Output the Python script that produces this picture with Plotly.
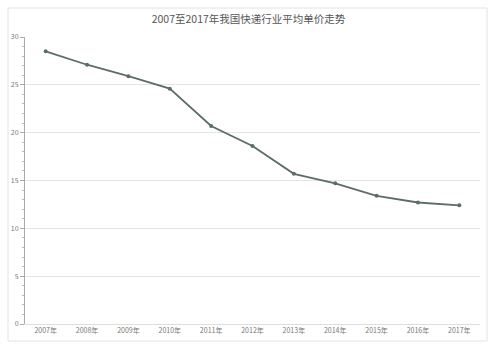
import plotly.graph_objects as go

years = ["2007年", "2008年", "2009年", "2010年", "2011年", "2012年",
         "2013年", "2014年", "2015年", "2016年", "2017年"]
prices = [28.5, 27.1, 25.9, 24.6, 20.7, 18.6, 15.7, 14.7, 13.4, 12.7, 12.4]
y_ticks = [0, 5, 10, 15, 20, 25, 30]
title = "2007至2017年我国快递行业平均单价走势"

W, H = 497, 352
L, R, T, B = 25, 17, 37, 28
pw, ph = W - L - R, H - T - B

fig = go.Figure(go.Scatter(
    x=years, y=prices, mode="lines+markers",
    line=dict(color="#5c6d69", width=1.8),
    marker=dict(size=4, color="#5c6d69"),
))

fig.update_layout(
    width=W, height=H,
    margin=dict(l=L, r=R, t=T, b=B),
    paper_bgcolor="white", plot_bgcolor="white",
    showlegend=False,
    font=dict(family="Noto Sans CJK SC, Noto Sans, sans-serif", color="#666"),
    title=dict(text=title, x=0.5, xanchor="center", y=1 - 19 / H, yanchor="middle",
               font=dict(size=10.5, color="#555")),
    shapes=[dict(type="rect", xref="paper", yref="paper",
                 x0=(8 - L) / pw, x1=(487 - L) / pw,
                 y0=(H - B - 341) / ph, y1=(H - B - 8) / ph,
                 line=dict(color="#e2e2e2", width=1), layer="below")],
)
fig.update_xaxes(type="category", showgrid=False, showline=True, linecolor="#ddd",
                 ticks="", tickfont=dict(size=7, color="#777"),
                 range=[-0.5, len(years) - 0.5])
fig.update_yaxes(range=[0, 30], tickvals=y_ticks, showgrid=True, gridcolor="#e4e4e4",
                 zeroline=False, showline=True, linecolor="#aaa",
                 ticks="outside", ticklen=4, tickcolor="#aaa",
                 minor=dict(ticks="outside", ticklen=2, dtick=1, tickcolor="#bbb", showgrid=False),
                 tickfont=dict(size=7, color="#777"))

fig.write_html("out.html")
